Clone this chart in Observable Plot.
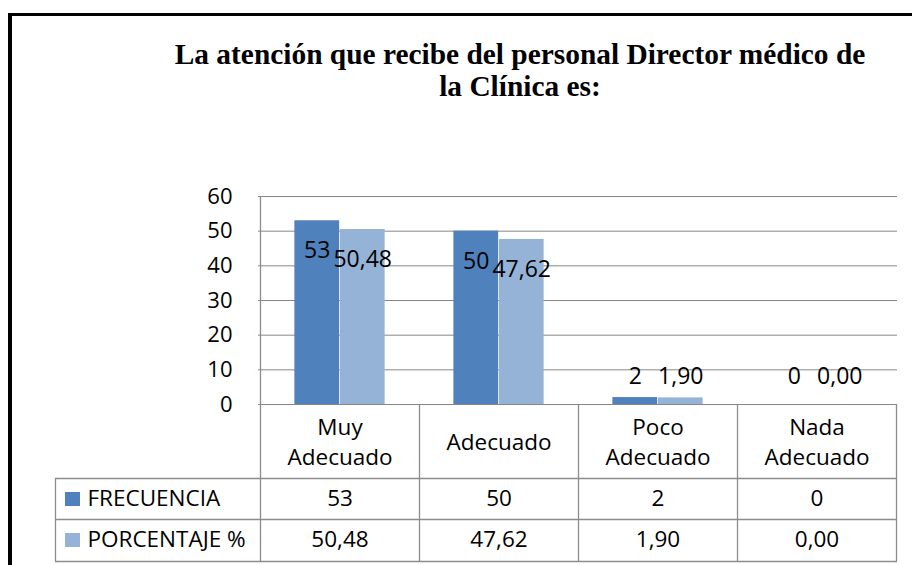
<!DOCTYPE html>
<html><head><meta charset="utf-8">
<script src="https://cdn.jsdelivr.net/npm/d3@7"></script>
<script src="https://cdn.jsdelivr.net/npm/@observablehq/plot@0.6"></script>
<style>
body{margin:0;background:#fff;}
#wrap{position:relative;width:912px;height:565px;overflow:hidden;background:#fff;}
#chart{position:absolute;left:0;top:0;z-index:1;}
#frame{position:absolute;left:8px;top:13px;width:1000px;height:1000px;border-left:4px solid #000;border-top:3.5px solid #000;z-index:2;}
.t{position:absolute;left:120px;width:800px;text-align:center;font-family:"Liberation Serif","Times New Roman",serif;font-weight:bold;font-size:29.4px;line-height:29.4px;color:#000;white-space:nowrap;z-index:3;}
</style></head><body>
<div id="wrap">
<div id="chart"></div>
<div id="frame"></div>
<div class="t" id="t1" style="top:40px;"></div>
<div class="t" id="t2" style="top:72px;"></div>
</div>
<script>
const titleLines = ["La atención que recibe del personal Director médico de", "la Clínica es:"];
const categories = ["Muy Adecuado", "Adecuado", "Poco Adecuado", "Nada Adecuado"];
const headerLabels = [["Muy", "Adecuado"], ["Adecuado"], ["Poco", "Adecuado"], ["Nada", "Adecuado"]];
const seriesNames = ["FRECUENCIA", "PORCENTAJE %"];
const frecuencia = [53, 50, 2, 0];
const porcentaje = [50.48, 47.62, 1.90, 0.00];
const yTicks = [0, 10, 20, 30, 40, 50, 60];
const colors = ["#4f81bd", "#95b3d7"];

document.getElementById("t1").textContent = titleLines[0];
document.getElementById("t2").textContent = titleLines[1];

const fmtF = v => String(v);
const fmtP = v => v.toFixed(2).replace(".", ",");

const rowsF = categories.map((c, i) => ({cat: c, value: frecuencia[i], label: fmtF(frecuencia[i])}));
const rowsP = categories.map((c, i) => ({cat: c, value: porcentaje[i], label: fmtP(porcentaje[i])}));
// header cells, one item per text line
const headerItems = [];
categories.forEach((c, i) => {
  const lines = headerLabels[i];
  lines.forEach((t, j) => headerItems.push({cat: c, text: t, n: lines.length, j}));
});

const W = 912, H = 565;
const mL = 258, mR = 15, mT = 196, mB = 161;
const band = (W - mL - mR) / categories.length;
const barW = 45.5;
const outer = (band - 2 * barW) / 2;
const big = 10;
const font = "'Open Sans', sans-serif";
const fsT = 22.5;  // table text
const fsL = 23;    // bar labels

const plot = Plot.plot({
  width: W, height: H,
  marginLeft: mL, marginRight: mR, marginTop: mT, marginBottom: mB,
  style: {fontFamily: font, background: "transparent", color: "#000"},
  x: {type: "band", domain: categories, padding: 0, axis: null},
  y: {domain: [0, 60], ticks: yTicks},
  marks: [
    Plot.gridY(yTicks, {stroke: "#868686", strokeOpacity: 1}),
    Plot.axisY(yTicks, {tickSize: 0, tickPadding: 26, fontSize: 22, label: null, tickFormat: d => String(d)}),
    Plot.barY(rowsF, {x: "cat", y: "value", fill: colors[0], insetLeft: outer, insetRight: band - outer - barW}),
    Plot.barY(rowsP, {x: "cat", y: "value", fill: colors[1], insetLeft: band - outer - barW, insetRight: outer}),
    Plot.text(rowsF.filter(d => d.value >= big), {x: "cat", y: "value", text: "label", dx: -barW / 2, dy: 30, fontSize: fsL, fill: "#000"}),
    Plot.text(rowsP.filter(d => d.value >= big), {x: "cat", y: "value", text: "label", dx: barW / 2, dy: 30, fontSize: fsL, fill: "#000"}),
    Plot.text(rowsF.filter(d => d.value < big), {x: "cat", frameAnchor: "bottom", text: "label", dx: -barW / 2, dy: -21, fontSize: fsL, fill: "#000"}),
    Plot.text(rowsP.filter(d => d.value < big), {x: "cat", frameAnchor: "bottom", text: "label", dx: barW / 2, dy: -21, fontSize: fsL, fill: "#000"}),
    // data table text
    Plot.text(headerItems.filter(d => d.n === 1), {x: "cat", frameAnchor: "bottom", text: "text", dy: 45, fontSize: fsT, fill: "#000"}),
    Plot.text(headerItems.filter(d => d.n === 2 && d.j === 0), {x: "cat", frameAnchor: "bottom", text: "text", dy: 30, fontSize: fsT, fill: "#000"}),
    Plot.text(headerItems.filter(d => d.n === 2 && d.j === 1), {x: "cat", frameAnchor: "bottom", text: "text", dy: 60, fontSize: fsT, fill: "#000"}),
    Plot.text(rowsF, {x: "cat", frameAnchor: "bottom", text: "label", dy: 101, fontSize: fsT, fill: "#000"}),
    Plot.text(rowsP, {x: "cat", frameAnchor: "bottom", text: "label", dy: 142, fontSize: fsT, fill: "#000"}),
    Plot.text([seriesNames[0]], {frameAnchor: "bottom-left", text: d => d, textAnchor: "start", dx: 87 - mL, dy: 101, fontSize: fsT, fill: "#000"}),
    Plot.text([seriesNames[1]], {frameAnchor: "bottom-left", text: d => d, textAnchor: "start", dx: 87 - mL, dy: 142, fontSize: fsT, fill: "#000"})
  ]
});
document.getElementById("chart").appendChild(plot);

// table grid and legend keys, positioned from the plot's scales
const xs = plot.scale("x"), ys = plot.scale("y");
const svg = d3.select(plot);
const x0 = xs.apply(categories[0]);
const xEnd = xs.apply(categories[categories.length - 1]) + xs.bandwidth;
const y0 = ys.apply(0), yTop = ys.apply(60);
const r1 = y0 + 74, r2 = y0 + 115, r3 = y0 + 157;
const tL = 55;
const g = svg.append("g").attr("stroke", "#8c8c8c").attr("stroke-width", 1.3).attr("fill", "none");
g.append("line").attr("x1", x0 + 0.5).attr("x2", x0 + 0.5).attr("y1", yTop).attr("y2", r3);
categories.forEach((c) => {
  const xx = xs.apply(c) + xs.bandwidth + 0.5;
  g.append("line").attr("x1", xx).attr("x2", xx).attr("y1", y0).attr("y2", r3);
});
g.append("line").attr("x1", tL + 0.5).attr("x2", tL + 0.5).attr("y1", r1).attr("y2", r3);
[r1, r2, r3].forEach(yy => g.append("line").attr("x1", tL).attr("x2", xEnd + 1).attr("y1", yy + 0.5).attr("y2", yy + 0.5));
seriesNames.forEach((s, i) => {
  svg.append("rect").attr("x", 65).attr("y", (i === 0 ? r1 : r2) + 14).attr("width", 15).attr("height", 14).attr("fill", colors[i]);
});
</script>
</body></html>
